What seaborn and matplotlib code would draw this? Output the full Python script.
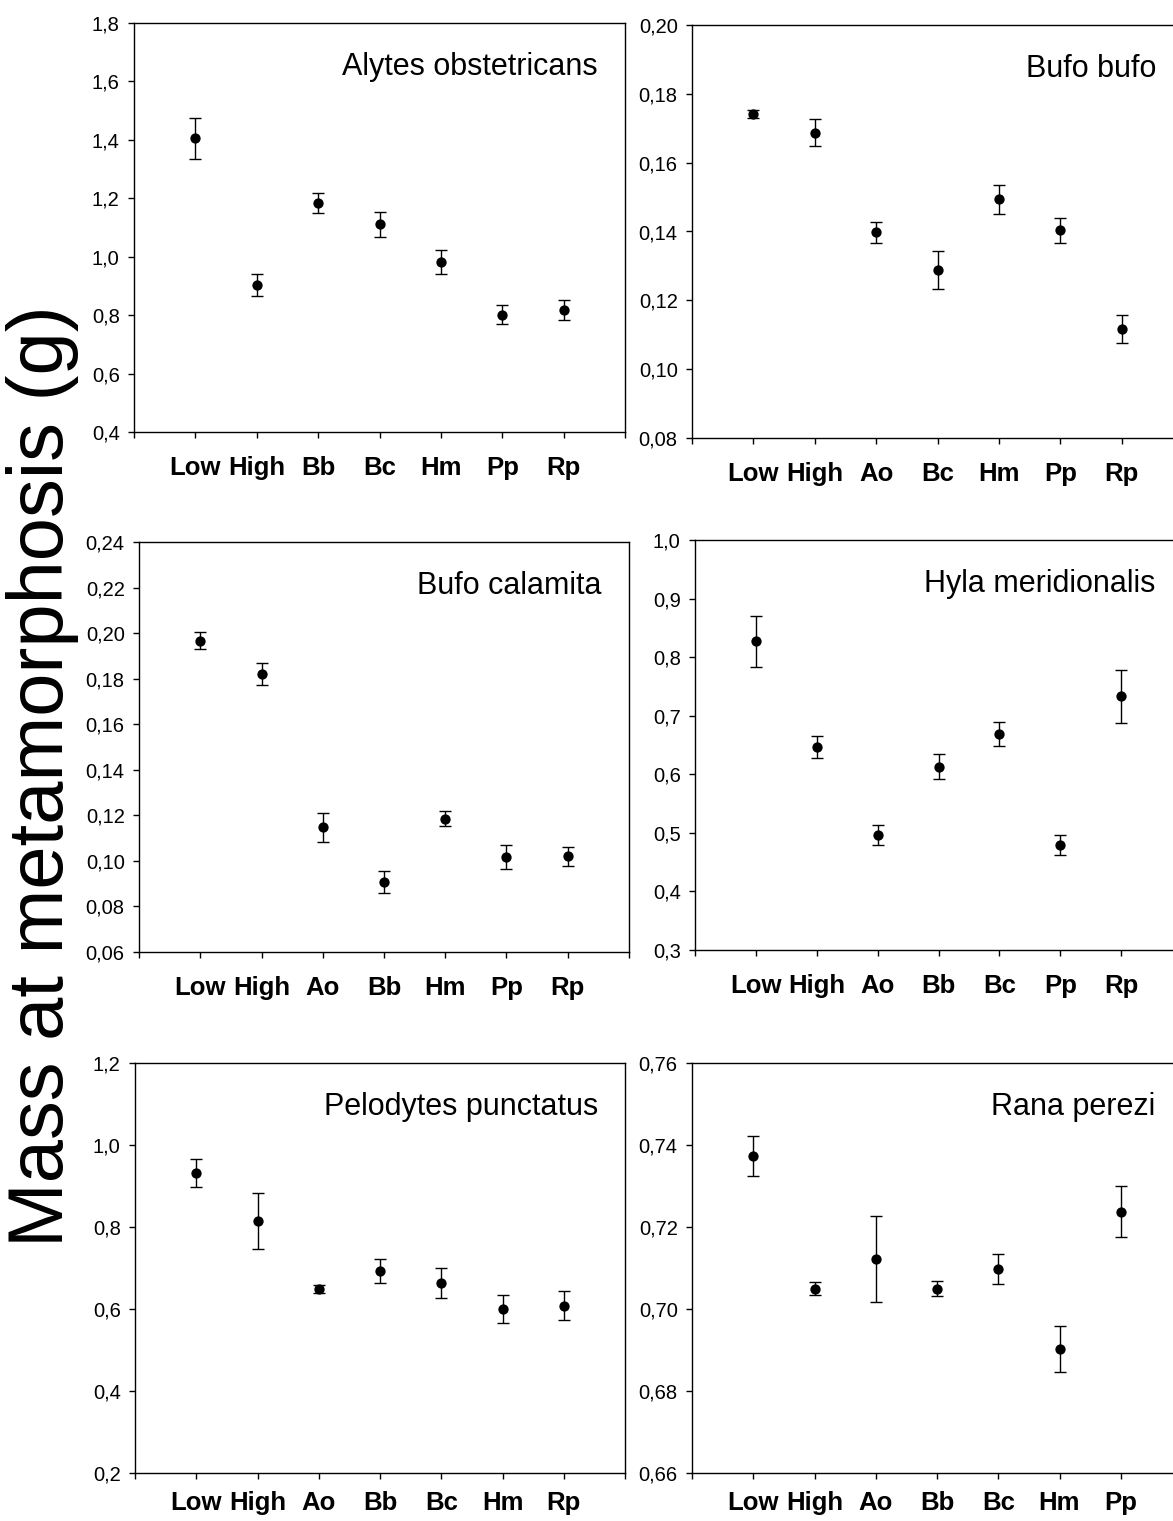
import numpy as np
import pandas as pd
import matplotlib
matplotlib.use("Agg")
import matplotlib.pyplot as plt
import seaborn as sns
from matplotlib.ticker import FuncFormatter

# ---- data (mean +/- error) ----
species = ["Alytes obstetricans", "Bufo bufo", "Bufo calamita",
           "Hyla meridionalis", "Pelodytes punctatus", "Rana perezi"]

cats_ao = ["Low", "High", "Bb", "Bc", "Hm", "Pp", "Rp"]
mean_ao = [1.405, 0.903, 1.184, 1.111, 0.982, 0.802, 0.817]
se_ao = [0.070, 0.038, 0.035, 0.042, 0.040, 0.032, 0.035]

cats_bb = ["Low", "High", "Ao", "Bc", "Hm", "Pp", "Rp"]
mean_bb = [0.1741, 0.1687, 0.1398, 0.1288, 0.1493, 0.1404, 0.1116]
se_bb = [0.0012, 0.0040, 0.0030, 0.0056, 0.0043, 0.0036, 0.0041]

cats_bc = ["Low", "High", "Ao", "Bb", "Hm", "Pp", "Rp"]
mean_bc = [0.1967, 0.1822, 0.1147, 0.0906, 0.1184, 0.1017, 0.1020]
se_bc = [0.0038, 0.0048, 0.0065, 0.0049, 0.0033, 0.0051, 0.0042]

cats_hm = ["Low", "High", "Ao", "Bb", "Bc", "Pp", "Rp"]
mean_hm = [0.827, 0.647, 0.496, 0.613, 0.669, 0.479, 0.733]
se_hm = [0.044, 0.019, 0.017, 0.021, 0.020, 0.017, 0.045]

cats_pp = ["Low", "High", "Ao", "Bb", "Bc", "Hm", "Rp"]
mean_pp = [0.931, 0.815, 0.649, 0.693, 0.663, 0.600, 0.608]
se_pp = [0.034, 0.068, 0.010, 0.030, 0.037, 0.033, 0.036]

cats_rp = ["Low", "High", "Ao", "Bb", "Bc", "Hm", "Pp"]
mean_rp = [0.7373, 0.7050, 0.7122, 0.7050, 0.7097, 0.6902, 0.7237]
se_rp = [0.0048, 0.0017, 0.0104, 0.0018, 0.0036, 0.0056, 0.0062]

# y axis range, tick step, decimals
ylims = [(0.4, 1.8), (0.08, 0.20), (0.06, 0.24), (0.3, 1.0), (0.2, 1.2), (0.66, 0.76)]
ysteps = [0.2, 0.02, 0.02, 0.1, 0.2, 0.02]
ydec = [1, 2, 2, 1, 1, 2]

panels = [
    (cats_ao, mean_ao, se_ao),
    (cats_bb, mean_bb, se_bb),
    (cats_bc, mean_bc, se_bc),
    (cats_hm, mean_hm, se_hm),
    (cats_pp, mean_pp, se_pp),
    (cats_rp, mean_rp, se_rp),
]

# ---- style ----
sns.set_theme(style="ticks")
plt.rcParams["font.family"] = ["Liberation Sans", "DejaVu Sans"]

W, H = 1173, 1521
fig = plt.figure(figsize=(W / 100, H / 100), dpi=100)

# axes boxes in pixels: left, right, top, bottom (right column runs off the page)
boxes = [
    (134, 625, 23, 432),
    (692, 1183, 25, 438),
    (139, 629, 542, 952),
    (695, 1182, 540, 950),
    (135, 625, 1063, 1473),
    (692, 1182, 1063, 1473),
]
xpads = [13, 13, 13, 13, 9, 9]

for i, (cats, means, errs) in enumerate(panels):
    l, r, t, b = boxes[i]
    ax = fig.add_axes([l / W, 1 - b / H, (r - l) / W, (b - t) / H])
    df = pd.DataFrame({"group": cats, "mass": means, "err": errs})

    ax.errorbar(df["group"], df["mass"], yerr=df["err"], fmt="none",
                ecolor="black", elinewidth=1.0, capsize=4, capthick=1.0,
                zorder=2)
    sns.scatterplot(data=df, x="group", y="mass", ax=ax, color="black",
                    s=55, linewidth=0, zorder=3, legend=False)

    lo, hi = ylims[i]
    ax.set_ylim(lo, hi)
    ax.set_yticks(np.arange(lo, hi + ysteps[i] / 2, ysteps[i]))
    d = ydec[i]
    ax.yaxis.set_major_formatter(
        FuncFormatter(lambda v, p, d=d: f"{v:.{d}f}".replace(".", ",")))

    n = len(cats)
    ax.set_xlim(-1, n)
    ax.set_xticks(range(-1, n + 1))
    ax.set_xticklabels([""] + cats + [""], fontweight="bold", fontsize=18.5)
    ax.set_xlabel("")
    ax.set_ylabel("")

    ax.tick_params(axis="y", labelsize=14.5, length=4.3, width=1.0,
                   pad=6, color="black", labelcolor="black", direction="out")
    ax.tick_params(axis="x", length=4.3, width=1.0, pad=xpads[i],
                   color="black", labelcolor="black", direction="out")
    for sp in ax.spines.values():
        sp.set_visible(True)
        sp.set_color("black")
        sp.set_linewidth(1.0)
    ax.set_facecolor("white")
    ax.grid(False)

    ax.text(1 - 27 / (r - l), 1 - 52 / (b - t), species[i],
            transform=ax.transAxes, ha="right", va="baseline",
            fontsize=22, color="black")

fig.text(6 / W, 1 - 776 / H, "Mass at metamorphosis (g)", rotation=90,
         ha="left", va="center", fontsize=56, color="black")

fig.savefig("out.png", dpi=100, facecolor="white")
